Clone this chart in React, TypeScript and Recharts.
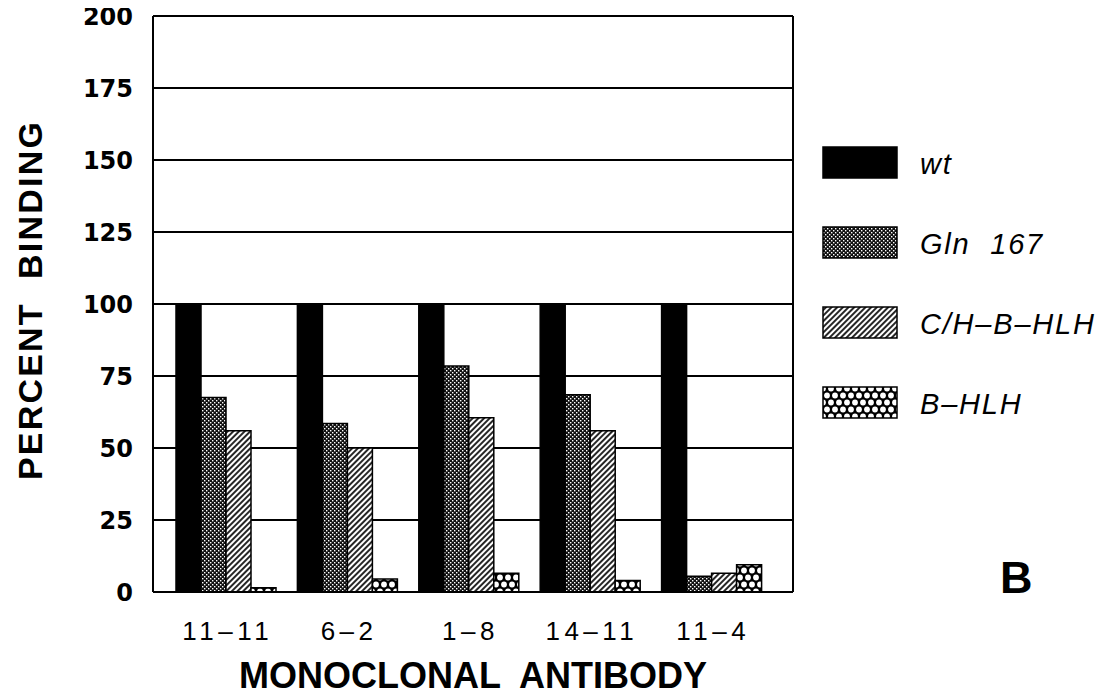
import React from 'react';
import { BarChart, Bar, XAxis, YAxis, CartesianGrid, Legend, ReferenceLine, Label } from 'recharts';

const CATEGORIES = ['11–11', '6–2', '1–8', '14–11', '11–4'];
const WT = [100, 100, 100, 100, 100];
const GLN_167 = [67.5, 58.5, 78.5, 68.5, 5.5];
const CH_B_HLH = [56, 50, 60.5, 56, 6.5];
const B_HLH = [1.5, 4.5, 6.5, 4, 9.5];
const Y_TICKS = [0, 25, 50, 75, 100, 125, 150, 175, 200];

const SERIES = [
  { key: 'wt', name: 'wt', fill: '#000' },
  { key: 'gln', name: 'Gln  167', fill: 'url(#dots)' },
  { key: 'ch', name: 'C/H–B–HLH', fill: 'url(#hatch)' },
  { key: 'bhlh', name: 'B–HLH', fill: 'url(#cross)' },
];

const data = CATEGORIES.map((name, i) => ({
  name,
  wt: WT[i],
  gln: GLN_167[i],
  ch: CH_B_HLH[i],
  bhlh: B_HLH[i],
}));

const SANS = '"Liberation Sans", Arial, sans-serif';

const XTick = ({ x, y, payload }: any) => (
  <text x={x + 2} y={y + 46} textAnchor="middle" fontFamily={SANS} fontSize={26} letterSpacing={4.5} fill="#000">
    {payload.value}
  </text>
);

const YTick = ({ x, y, payload }: any) => (
  <text x={x} y={y} dy={9} textAnchor="end" fontFamily='"DejaVu Sans", sans-serif' fontWeight="bold" fontSize={24} fill="#000">
    {payload.value}
  </text>
);

const LegendBox = () => (
  <svg width={290} height={300}>
    {SERIES.map((s, i) => (
      <g key={s.key}>
        <rect x={8} y={7 + i * 80} width={74} height={31} fill={s.fill} stroke="#000" strokeWidth={1.5} />
        <text
          x={105}
          y={34 + i * 80}
          fontFamily={SANS}
          fontStyle="italic"
          fontSize={29}
          letterSpacing={1.8}
          fill="#000"
          style={{ whiteSpace: 'pre' }}
        >
          {s.name}
        </text>
      </g>
    ))}
  </svg>
);

export default function App() {
  return (
    <div style={{ position: 'relative', width: 1108, height: 697, margin: '-8px 0 0 -8px', background: '#fff' }}>
      <BarChart width={1108} height={697} data={data} margin={{ top: 16, right: 314, bottom: 0, left: 0 }} barGap={0}>
        <defs>
          <pattern id="dots" width="4" height="4" patternUnits="userSpaceOnUse">
            <rect width="4" height="4" fill="#111" />
            <rect x="0" y="0" width="1.4" height="1.4" fill="#fff" />
            <rect x="2" y="2" width="1.4" height="1.4" fill="#fff" />
          </pattern>
          <pattern id="hatch" width="4" height="4" patternUnits="userSpaceOnUse" patternTransform="rotate(45)">
            <rect width="4" height="4" fill="#fff" />
            <line x1="2" y1="0" x2="2" y2="4" stroke="#000" strokeWidth="1.7" />
          </pattern>
          <pattern id="cross" width="8" height="14" patternUnits="userSpaceOnUse">
            <rect width="8" height="14" fill="#000" />
            <circle cx="4" cy="3.5" r="2.9" fill="#fff" />
            <circle cx="0" cy="10.5" r="2.9" fill="#fff" />
            <circle cx="8" cy="10.5" r="2.9" fill="#fff" />
          </pattern>
        </defs>
        <CartesianGrid vertical={false} stroke="#000" strokeWidth={2} />
        <XAxis
          dataKey="name"
          interval={0}
          padding={{ left: 12, right: 21 }}
          tickLine={false}
          tickSize={0}
          axisLine={{ stroke: '#000', strokeWidth: 2 }}
          height={105}
          tick={<XTick />}
        >
          <Label
            content={({ viewBox }: any) => (
              <text
                x={viewBox.x + viewBox.width / 2}
                y={viewBox.y + 96}
                textAnchor="middle"
                fontFamily={SANS}
                fontWeight="bold"
                fontSize={36}
                fill="#000"
                style={{ whiteSpace: 'pre' }}
              >
                {'MONOCLONAL  ANTIBODY'}
              </text>
            )}
          />
        </XAxis>
        <YAxis
          domain={[0, 200]}
          ticks={Y_TICKS}
          width={153}
          tickLine={false}
          tickSize={0}
          tickMargin={20}
          axisLine={{ stroke: '#000', strokeWidth: 2 }}
          tick={<YTick />}
        >
          <Label
            content={({ viewBox }: any) => {
              const cx = viewBox.x + 42;
              const cy = viewBox.y + viewBox.height / 2 - 4;
              return (
                <text
                  x={cx}
                  y={cy}
                  transform={`rotate(-90, ${cx}, ${cy})`}
                  textAnchor="middle"
                  fontFamily={SANS}
                  fontWeight="bold"
                  fontSize={34}
                  letterSpacing={2.2}
                  fill="#000"
                  style={{ whiteSpace: 'pre' }}
                >
                  {'PERCENT  BINDING'}
                </text>
              );
            }}
          />
        </YAxis>
        <YAxis yAxisId="right" orientation="right" width={1} tick={false} tickLine={false} axisLine={{ stroke: '#000', strokeWidth: 2 }} />
        <ReferenceLine y={200} stroke="#000" strokeWidth={2} />
        {SERIES.map((s) => (
          <Bar key={s.key} dataKey={s.key} name={s.name} fill={s.fill} stroke="#000" strokeWidth={1.5} barSize={25} isAnimationActive={false} />
        ))}
        <Legend
          layout="vertical"
          align="center"
          verticalAlign="middle"
          content={<LegendBox />}
          wrapperStyle={{ position: 'absolute', left: 815, top: 140, width: 290, height: 300 }}
        />
        <text x={1000} y={593} fontFamily={SANS} fontWeight="bold" fontSize={45} fill="#000">
          B
        </text>
      </BarChart>
    </div>
  );
}
